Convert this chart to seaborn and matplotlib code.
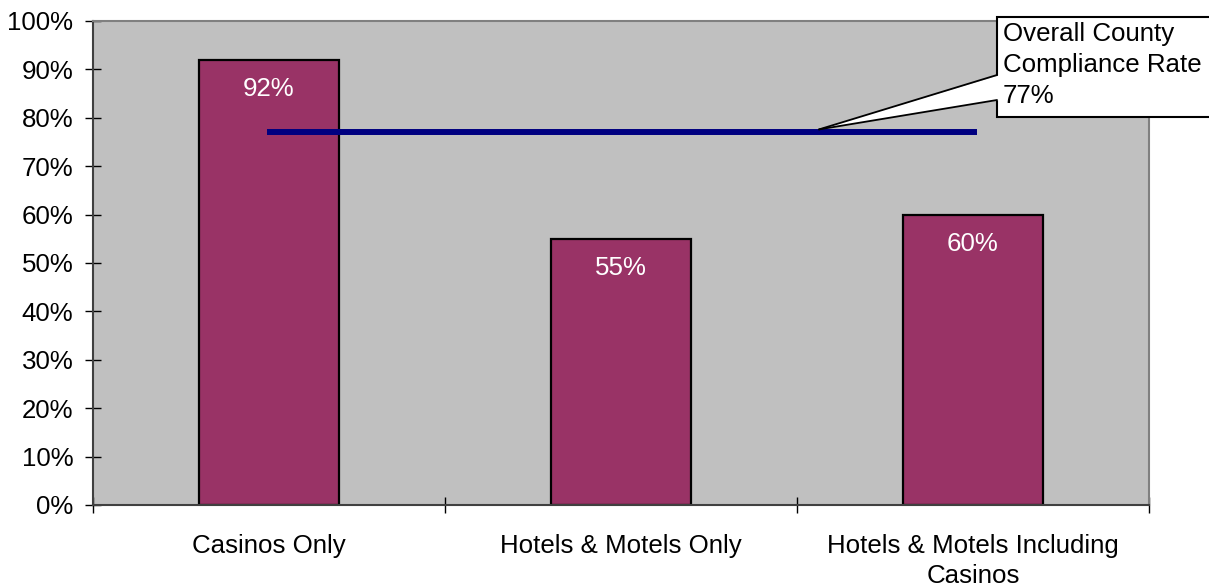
import matplotlib
matplotlib.use("Agg")
import matplotlib.pyplot as plt
import seaborn as sns
from matplotlib.patches import Rectangle, Polygon
from matplotlib.lines import Line2D
from matplotlib.ticker import FuncFormatter

# data
categories = ["Casinos Only", "Hotels & Motels Only", "Hotels & Motels Including\nCasinos"]
rates = [92, 55, 60]
overall_rate = 77
bar_labels = ["92%", "55%", "60%"]

sns.set_style("white")
plt.rcParams['font.family'] = ['Liberation Sans', 'DejaVu Sans']
plt.rcParams['text.color'] = 'black'
plt.rcParams['xtick.labelcolor'] = 'black'
plt.rcParams['ytick.labelcolor'] = 'black'

FS = 18.6
W, H = 1209, 586
fig = plt.figure(figsize=(W / 100, H / 100), dpi=100)
ax = fig.add_axes([93 / W, (H - 505) / H, 1056 / W, 484 / H])
ax.set_facecolor("#C0C0C0")

sns.barplot(x=categories, y=rates, color="#993366", saturation=1, width=0.4,
            edgecolor="black", linewidth=1.6, ax=ax, zorder=2)

# overall county line
ax.hlines(overall_rate, -0.005, 2.01, color="#000080", linewidth=4.3, zorder=3)

# labels inside the bars
texts = ax.bar_label(ax.containers[0], labels=bar_labels, padding=-21,
                     color="white", fontsize=FS)
for t in texts:
    t.set_va("center")

ax.set_xlim(-0.5, 2.5)
ax.set_ylim(0, 100)
ax.set_yticks(range(0, 101, 10))
ax.yaxis.set_major_formatter(FuncFormatter(lambda v, p: f"{v:.0f}%"))
ax.tick_params(axis="y", direction="inout", length=11.5, width=1, color="black",
               labelsize=FS, pad=8.5, left=True)
ax.tick_params(axis="x", which="major", length=0, labelsize=FS, pad=21)
for lab in ax.get_xticklabels():
    lab.set_linespacing(1.3)
ax.set_xticks([-0.5, 0.5, 1.5, 2.5], minor=True)
ax.tick_params(axis="x", which="minor", direction="inout", length=11.5, width=1,
               color="black", bottom=True)
ax.set_xlabel("")
ax.set_ylabel("")

for side, col in [("left", "#404040"), ("bottom", "#404040"),
                  ("top", "#808080"), ("right", "#808080")]:
    ax.spines[side].set_visible(True)
    ax.spines[side].set_color(col)
    ax.spines[side].set_linewidth(1.5)

# callout box
fig.canvas.draw()
tip = ax.transData.transform((1.5625, overall_rate + 0.6))
tx, ty = tip[0] / W, tip[1] / H
bx0, by_top, by_bot = 997 / W, (H - 17) / H, (H - 117) / H
fig.patches.append(Rectangle((bx0, by_bot), (1215 - 997) / W, by_top - by_bot,
                             transform=fig.transFigure, facecolor="white",
                             edgecolor="black", linewidth=1.5, zorder=5))
ya, yb = (H - 75) / H, (H - 100) / H
fig.patches.append(Polygon([(tx, ty), (1000 / W, ya), (1000 / W, yb)], closed=True,
                           transform=fig.transFigure, facecolor="white",
                           edgecolor="none", zorder=6))
for yy in (ya, yb):
    fig.lines.append(Line2D([tx, bx0], [ty, yy], transform=fig.transFigure,
                            color="black", linewidth=1.3, zorder=7))
fig.text(1003 / W, (H - 22) / H,
         f"Overall County\nCompliance Rate\n{overall_rate}%",
         ha="left", va="top", fontsize=FS, linespacing=1.36, zorder=8)

fig.savefig("out.png", dpi=100)
